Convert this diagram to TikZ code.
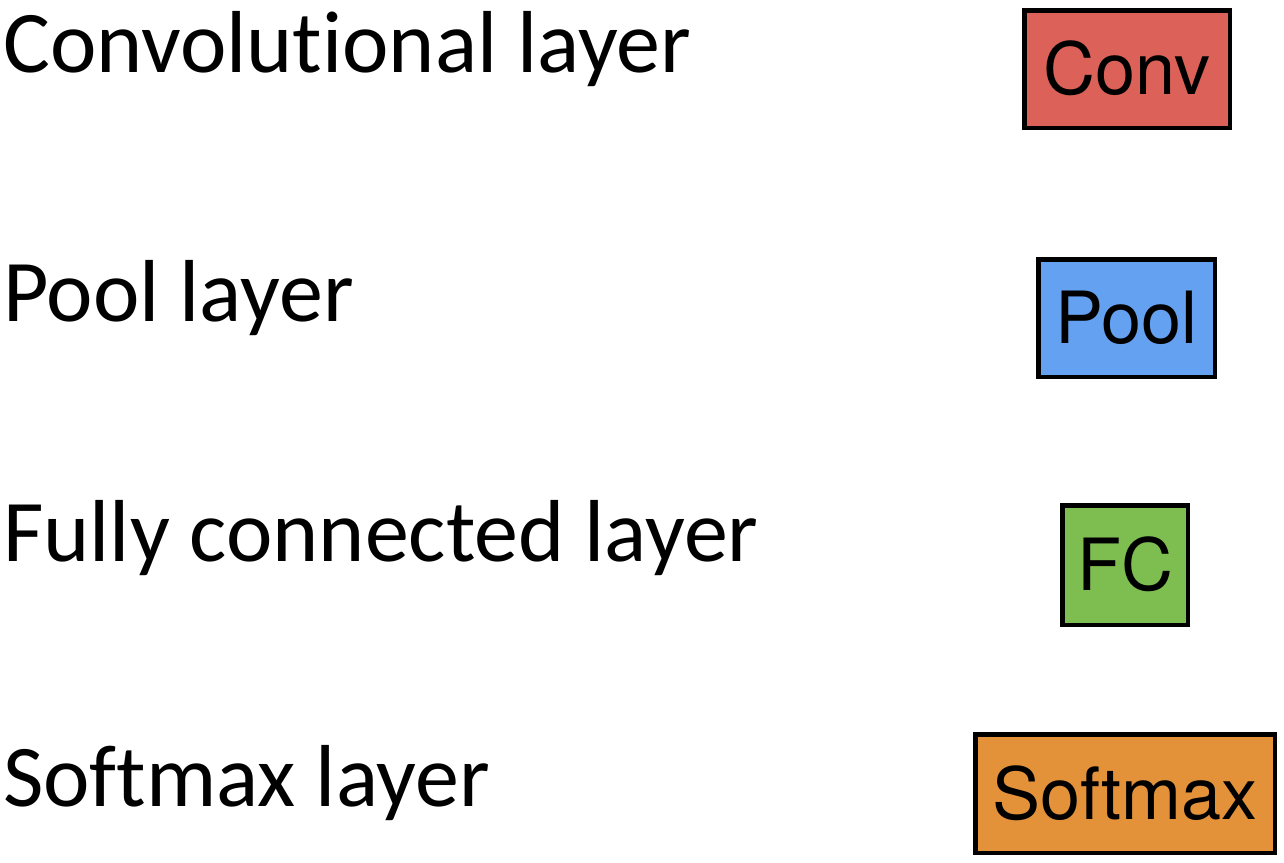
\documentclass[tikz,border=0pt]{standalone}
\usepackage{fontspec}
\setmainfont{Carlito}[RawFeature={-liga;-clig}]
\newfontfamily\boxfont{TeX Gyre Heros}
\definecolor{convred}{HTML}{DC6259}
\definecolor{poolblue}{HTML}{64A1F0}
\definecolor{fcgreen}{HTML}{7EBE51}
\definecolor{smorange}{HTML}{E4923A}
\tikzset{
  label/.style={anchor=base west, inner sep=0pt, font=\fontsize{88}{91}\selectfont},
  layerbox/.style={draw=black, line width=4.5pt, inner sep=0pt,
    font=\boxfont\fontsize{72}{76}\selectfont, text height=51.7pt, text depth=0pt}
}
\begin{document}
\begin{tikzpicture}[x=1pt,y=-1pt]
\useasboundingbox (0,0) rectangle (1284,862);
\node[label] (lconv) at (3,72) {Convolutional layer};
\node[label] (lpool) at (3,321) {Pool layer};
\node[label] (lfc) at (3,561) {Fully connected layer};
\node[label] (lsm) at (3,806) {Softmax layer};
\node[layerbox, fill=convred, minimum width=205.5pt, minimum height=117.5pt] (conv) at (1127,69) {Conv};
\node[layerbox, fill=poolblue, minimum width=176.5pt, minimum height=117.5pt] (pool) at (1126.5,318) {Pool};
\node[layerbox, fill=fcgreen, minimum width=125.5pt, minimum height=119.5pt] (fc) at (1125,565) {FC};
\node[layerbox, fill=smorange, minimum width=299.5pt, minimum height=118.5pt] (sm) at (1125,793.5) {Softmax};
\end{tikzpicture}
\end{document}
